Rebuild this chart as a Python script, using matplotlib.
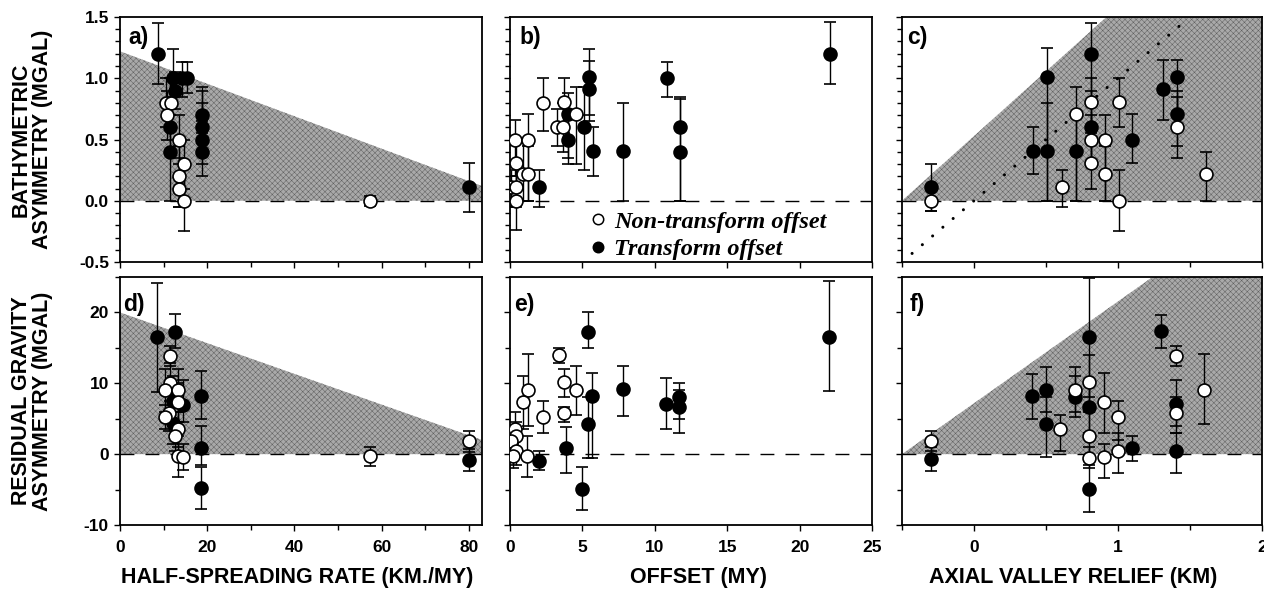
import matplotlib
matplotlib.use("Agg")
import matplotlib.pyplot as plt
from matplotlib.lines import Line2D
from matplotlib.ticker import MultipleLocator
import numpy as np

plt.rcParams['font.family'] = ['Liberation Sans', 'DejaVu Sans']
plt.rcParams['font.weight'] = 'bold'

# ---------------- data ----------------
# Panel a: bathymetric asymmetry vs half-spreading rate
a_tr_x  = [8.7, 12.2, 14.2, 15.3, 12.6, 11.5, 11.5, 18.7, 18.7, 18.7, 18.7, 80.0]
a_tr_y  = [1.20, 1.00, 1.00, 1.00, 0.90, 0.60, 0.40, 0.70, 0.60, 0.50, 0.40, 0.11]
a_tr_lo = [0.95, 0.85, 0.85, 0.88, 0.75, 0.40, 0.00, 0.55, 0.40, 0.30, 0.20, -0.09]
a_tr_hi = [1.45, 1.24, 1.13, 1.13, 1.05, 1.00, 0.70, 0.93, 0.90, 0.80, 0.65, 0.31]
a_nt_x  = [10.5, 11.6, 10.8, 13.5, 14.7, 13.5, 13.5, 14.7, 57.3]
a_nt_y  = [0.80, 0.80, 0.70, 0.50, 0.30, 0.20, 0.10, 0.00, 0.00]
a_nt_lo = [0.60, 0.60, 0.50, 0.30, 0.10, -0.05, -0.05, -0.25, -0.04]
a_nt_hi = [1.00, 1.00, 0.90, 0.70, 0.50, 0.45, 0.35, 0.30, 0.04]

# Panel b: bathymetric asymmetry vs offset
b_tr_x  = [2.03, 4.04, 4.04, 5.08, 5.49, 5.49, 5.72, 7.8, 10.85, 11.77, 11.77, 22.1]
b_tr_y  = [0.11, 0.71, 0.50, 0.60, 1.01, 0.91, 0.41, 0.41, 1.00, 0.60, 0.40, 1.20]
b_tr_lo = [-0.05, 0.35, 0.30, 0.25, 0.70, 0.65, 0.20, 0.00, 0.85, 0.00, 0.00, 0.95]
b_tr_hi = [0.25, 0.88, 0.70, 0.93, 1.24, 1.14, 0.60, 0.80, 1.13, 0.83, 0.85, 1.46]
b_nt_x  = [0.07, 0.42, 0.42, 0.35, 1.27, 0.88, 1.27, 0.42, 2.31, 3.70, 3.23, 3.69, 4.57]
b_nt_y  = [0.11, 0.11, 0.31, 0.50, 0.50, 0.22, 0.22, 0.00, 0.80, 0.81, 0.60, 0.60, 0.71]
b_nt_lo = [-0.05, -0.05, 0.10, 0.20, 0.00, 0.00, 0.00, -0.24, 0.57, 0.55, 0.45, 0.40, 0.30]
b_nt_hi = [0.25, 0.30, 0.50, 0.66, 0.71, 0.50, 0.45, 0.20, 1.00, 1.00, 0.75, 0.80, 0.93]

# Panel c: bathymetric asymmetry vs axial valley relief
c_tr_x  = [-0.30, 0.41, 0.507, 0.507, 0.71, 0.81, 0.81, 1.10, 1.31, 1.41, 1.41]
c_tr_y  = [0.11, 0.41, 1.01, 0.41, 0.41, 1.20, 0.60, 0.50, 0.91, 1.01, 0.71]
c_tr_lo = [-0.08, 0.22, 0.00, 0.00, 0.00, 0.50, 0.30, 0.31, 0.66, 0.70, 0.45]
c_tr_hi = [0.30, 0.60, 1.25, 0.80, 0.71, 1.45, 0.90, 0.71, 1.15, 1.15, 0.90]
c_nt_x  = [-0.30, 0.61, 0.71, 0.81, 0.81, 0.81, 0.91, 0.91, 1.01, 1.01, 1.41, 1.61]
c_nt_y  = [0.00, 0.11, 0.71, 0.81, 0.50, 0.31, 0.50, 0.22, 0.81, 0.00, 0.60, 0.22]
c_nt_lo = [-0.08, -0.05, 0.00, 0.55, 0.30, 0.10, 0.00, 0.00, 0.60, -0.25, 0.35, 0.00]
c_nt_hi = [0.10, 0.25, 0.93, 1.00, 0.70, 0.50, 0.70, 0.45, 1.00, 0.25, 0.85, 0.40]
c_ref_x = [-0.43, 1.43]   # dotted 1:1 reference line
c_ref_y = [-0.43, 1.43]

# Panel d: residual gravity asymmetry vs half-spreading rate
d_tr_x  = [8.4, 12.6, 12.2, 14.5, 12.2, 18.5, 18.5, 18.5, 80.0]
d_tr_y  = [16.5, 17.3, 7.5, 7.0, 4.4, 8.2, 0.9, -4.8, -0.85]
d_tr_lo = [8.7, 15.0, 4.0, 4.5, 1.5, 5.0, -1.5, -7.8, -2.4]
d_tr_hi = [24.1, 19.8, 11.0, 10.5, 7.0, 11.8, 4.0, -1.8, 0.7]
d_nt_x  = [11.5, 11.5, 10.3, 13.4, 13.4, 11.3, 10.3, 13.4, 12.6, 13.4, 14.5, 57.3, 80.0]
d_nt_y  = [13.9, 10.1, 9.0, 9.0, 7.3, 5.8, 5.2, 3.5, 2.5, -0.3, -0.4, -0.3, 1.8]
d_nt_lo = [12.5, 7.5, 6.0, 6.0, 4.5, 3.2, 3.5, 1.0, 0.5, -3.2, -2.3, -1.7, 0.3]
d_nt_hi = [15.3, 12.8, 12.0, 12.0, 10.0, 8.5, 7.0, 6.0, 4.5, 2.5, 1.5, 1.0, 3.3]

# Panel e: residual gravity asymmetry vs offset
e_tr_x  = [2.03, 3.9, 5.4, 5.64, 5.4, 5.0, 7.8, 10.8, 11.65, 11.65, 22.0]
e_tr_y  = [-0.9, 0.9, 17.3, 8.2, 4.3, -4.9, 9.2, 7.1, 8.0, 6.6, 16.5]
e_tr_lo = [-2.2, -2.7, 15.0, -0.5, -0.5, -7.9, 5.4, 3.6, 5.0, 3.0, 8.9]
e_tr_hi = [0.5, 3.9, 20.0, 11.5, 8.0, -1.8, 12.5, 10.8, 10.0, 9.0, 24.5]
e_nt_x  = [3.35, 3.70, 4.57, 3.70, 2.26, 1.27, 0.92, 0.35, 0.42, 0.10, 0.42, 0.20, 1.20]
e_nt_y  = [14.0, 10.2, 9.1, 5.8, 5.2, 9.1, 7.4, 3.5, 2.5, 1.8, 0.4, -0.3, -0.3]
e_nt_lo = [12.8, 8.0, 5.5, 4.5, 3.0, 4.0, 3.5, 1.0, 0.5, 0.0, -1.5, -2.0, -3.2]
e_nt_hi = [15.0, 12.0, 12.5, 6.7, 7.5, 14.2, 11.0, 6.0, 4.5, 3.5, 2.5, 1.5, 2.5]

# Panel f: residual gravity asymmetry vs axial valley relief
f_tr_x  = [0.40, 0.50, 0.50, 0.70, 0.80, 0.80, 0.80, 1.10, 1.30, 1.40, 1.40, -0.30]
f_tr_y  = [8.2, 9.1, 4.2, 8.1, 16.5, 6.6, -4.9, 0.9, 17.4, 7.1, 0.5, -0.75]
f_tr_lo = [4.9, 6.0, -0.4, 5.3, 8.0, 3.0, -8.1, -1.0, 15.0, 4.0, -2.6, -2.4]
f_tr_hi = [11.3, 12.3, 8.0, 11.0, 24.8, 10.0, -1.6, 2.5, 19.7, 10.5, 3.0, 1.0]
f_nt_x  = [-0.30, 0.60, 0.70, 0.80, 0.80, 0.80, 0.90, 0.90, 1.00, 1.00, 1.40, 1.40, 1.60]
f_nt_y  = [1.8, 3.5, 9.1, 10.2, 2.5, -0.5, 7.4, -0.4, 5.2, 0.4, 13.9, 5.8, 9.0]
f_nt_lo = [0.5, 0.4, 6.0, 7.0, -1.0, -2.0, 3.0, -3.4, 2.0, -2.6, 12.5, 3.0, 4.3]
f_nt_hi = [3.2, 5.5, 12.3, 14.0, 6.0, 1.0, 11.5, 1.5, 7.5, 3.0, 15.3, 8.0, 14.2]

# shaded envelopes
shade_a_x, shade_a_top = [0, 83], [1.22, 0.12]
shade_d_x, shade_d_top = [0, 83], [20.0, 2.0]
shade_c_x, shade_c_top = [-0.5, 0.92, 2.0], [0.0, 1.5, 1.5]
shade_f_x, shade_f_top = [-0.5, 1.24, 2.0], [0.0, 25.0, 25.0]

panel_labels = ['a)', 'b)', 'c)', 'd)', 'e)', 'f)']
xlabels = ['HALF-SPREADING RATE (KM./MY)', 'OFFSET (MY)', 'AXIAL VALLEY RELIEF (KM)']
ylabels = ['BATHYMETRIC\nASYMMETRY (MGAL)', 'RESIDUAL GRAVITY\nASYMMETRY (MGAL)']
legend_labels = ['Non-transform offset', 'Transform offset']

# ---------------- figure ----------------
W, H = 1264, 589
fig = plt.figure(figsize=(W / 100, H / 100), dpi=100)

cols = [(120, 482), (510, 872), (902, 1262)]
rows = [(17, 262), (277, 525)]

def add_ax(r, c):
    x0, x1 = cols[c]
    y0, y1 = rows[r]
    return fig.add_axes([x0 / W, 1 - y1 / H, (x1 - x0) / W, (y1 - y0) / H])

axes = [[add_ax(r, c) for c in range(3)] for r in range(2)]

SHADE = dict(facecolor='#a9a9a9', edgecolor='#606060', hatch='xxxxxx', linewidth=0)
plt.rcParams['hatch.linewidth'] = 0.35
plt.rcParams['hatch.color'] = '#555555'

def plot_series(ax, x, y, lo, hi, filled):
    x = np.asarray(x); y = np.asarray(y)
    yerr = [y - np.asarray(lo), np.asarray(hi) - y]
    ax.errorbar(x, y, yerr=yerr, fmt='o', ms=9.3,
                mfc='black' if filled else 'white', mec='black', mew=1.2,
                ecolor='black', elinewidth=1.0, capsize=4.0, capthick=1.1, zorder=4)

data = {
    (0, 0): (a_nt_x, a_nt_y, a_nt_lo, a_nt_hi, a_tr_x, a_tr_y, a_tr_lo, a_tr_hi),
    (0, 1): (b_nt_x, b_nt_y, b_nt_lo, b_nt_hi, b_tr_x, b_tr_y, b_tr_lo, b_tr_hi),
    (0, 2): (c_nt_x, c_nt_y, c_nt_lo, c_nt_hi, c_tr_x, c_tr_y, c_tr_lo, c_tr_hi),
    (1, 0): (d_nt_x, d_nt_y, d_nt_lo, d_nt_hi, d_tr_x, d_tr_y, d_tr_lo, d_tr_hi),
    (1, 1): (e_nt_x, e_nt_y, e_nt_lo, e_nt_hi, e_tr_x, e_tr_y, e_tr_lo, e_tr_hi),
    (1, 2): (f_nt_x, f_nt_y, f_nt_lo, f_nt_hi, f_tr_x, f_tr_y, f_tr_lo, f_tr_hi),
}
shades = {(0, 0): (shade_a_x, shade_a_top), (1, 0): (shade_d_x, shade_d_top),
          (0, 2): (shade_c_x, shade_c_top), (1, 2): (shade_f_x, shade_f_top)}

xlims = [(0, 83), (0, 25), (-0.5, 2.0)]
ylims = [(-0.5, 1.5), (-10, 25)]
xmajor = [20, 5, 1]
xminor = [10, 5, 0.5]
ymajor = [0.5, 10]
yminor = [0.1, 5]
yfmt = [lambda v: f'{v:.1f}', lambda v: f'{v:.0f}']
letter_pos = [[(0.022, 0.915), (0.025, 0.915), (0.014, 0.915)],
              [(0.010, 0.89), (0.012, 0.89), (0.020, 0.89)]]

for r in range(2):
    for c in range(3):
        ax = axes[r][c]
        ax.set_xlim(*xlims[c])
        ax.set_ylim(*ylims[r])
        if (r, c) in shades:
            sx, st = shades[(r, c)]
            ax.fill_between(sx, 0, st, zorder=1, **SHADE)
        ax.axhline(0, color='black', lw=1.0, dashes=(10, 8), zorder=2)
        nt_x, nt_y, nt_lo, nt_hi, tr_x, tr_y, tr_lo, tr_hi = data[(r, c)]
        plot_series(ax, tr_x, tr_y, tr_lo, tr_hi, True)
        plot_series(ax, nt_x, nt_y, nt_lo, nt_hi, False)

        ax.xaxis.set_major_locator(MultipleLocator(xmajor[c]))
        ax.xaxis.set_minor_locator(MultipleLocator(xminor[c]))
        ax.yaxis.set_major_locator(MultipleLocator(ymajor[r]))
        ax.yaxis.set_minor_locator(MultipleLocator(yminor[r]))
        ax.tick_params(which='both', direction='out', width=1.0, labelsize=12.5,
                       top=False, right=False)
        ax.tick_params(which='major', length=4.5)
        ax.tick_params(which='minor', length=3.5)
        for s in ax.spines.values():
            s.set_linewidth(1.3)
        if c == 0:
            ticks = [t for t in ax.get_yticks() if ylims[r][0] - 1e-9 <= t <= ylims[r][1] + 1e-9]
            ax.set_yticks(ticks)
            ax.set_yticklabels([yfmt[r](t) for t in ticks], fontweight='bold')
        else:
            ax.tick_params(axis='y', labelleft=False)
        if r == 0:
            ax.tick_params(axis='x', labelbottom=False)
        lx, ly = letter_pos[r][c]
        ax.text(lx, ly, panel_labels[r * 3 + c], transform=ax.transAxes,
                fontsize=16.5, fontweight='bold', va='center', ha='left', zorder=6)

# x tick labels for bottom row
axes[1][0].set_xticks([0, 20, 40, 60, 80])
axes[1][0].set_xticklabels(['0', '20', '40', '60', '80'], fontweight='bold')
axes[1][1].set_xticks([0, 5, 10, 15, 20, 25])
axes[1][1].set_xticklabels(['0', '5', '10', '15', '20', '25'], fontweight='bold')
axes[1][2].set_xticks([0, 1, 2])
axes[1][2].set_xticklabels(['0', '1', '2'], fontweight='bold')
for ax in axes[1]:
    ax.tick_params(axis='x', labelsize=12.5, pad=6)

# dotted reference line in panel c
axes[0][2].plot(c_ref_x, c_ref_y, color='black', lw=2.2, dashes=(0.01, 4.4),
                dash_capstyle='round', zorder=3)

# legend in panel b
handles = [Line2D([], [], ls='none', marker='o', ms=7.5, mfc='white', mec='black', mew=1.1),
           Line2D([], [], ls='none', marker='o', ms=7.5, mfc='black', mec='black', mew=1.1)]
axes[0][1].legend(handles, legend_labels, loc='lower left', bbox_to_anchor=(0.173, -0.062),
                  frameon=False, handlelength=0.7, handletextpad=0.3, labelspacing=0.22,
                  borderpad=0.2,
                  prop=dict(family=['Liberation Serif', 'DejaVu Serif'], weight='bold',
                            style='italic', size=17.5))

# axis labels
xlab_cx = [297, 699, 1073]
for cx, txt in zip(xlab_cx, xlabels):
    fig.text(cx / W, 1 - 577 / H, txt, ha='center', va='center', fontsize=15.5,
             fontweight='bold')
for (y0, y1), txt in zip(rows, ylabels):
    fig.text(32 / W, 1 - ((y0 + y1) / 2) / H, txt, ha='center', va='center',
             rotation=90, fontsize=15.5, fontweight='bold', multialignment='center',
             linespacing=1.0)

fig.savefig('out.png', dpi=100)
